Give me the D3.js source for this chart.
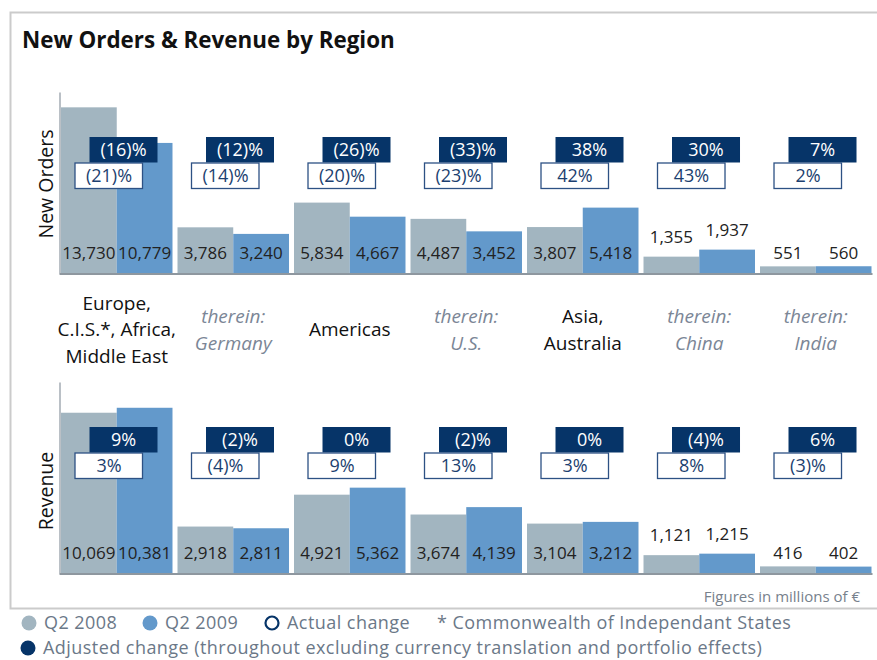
<!DOCTYPE html>
<meta charset="utf-8">
<style>
body { margin: 0; background: #fff; }
svg { font-family: "Open Sans", sans-serif; }
.val { fill: #222; font-size: 17px; text-anchor: middle; }
.cat { font-size: 19px; text-anchor: middle; }
.cat.sub { fill: #7b8696; font-style: italic; }
.legend text { fill: #6b7888; font-size: 18px; letter-spacing: 0.45px; }
</style>
<svg width="877" height="660"></svg>
<script src="https://d3js.org/d3.v7.min.js"></script>
<script>
var regions = ["Europe", "Germany", "Americas", "U.S.", "Asia", "China", "India"];
var regionLines = [["Europe,", "C.I.S.*, Africa,", "Middle East"], ["therein:", "Germany"], ["Americas"],
                   ["therein:", "U.S."], ["Asia,", "Australia"], ["therein:", "China"], ["therein:", "India"]];
var isSub = [false, true, false, true, false, true, true];

var orders2008 = [13730, 3786, 5834, 4487, 3807, 1355, 551];
var orders2009 = [10779, 3240, 4667, 3452, 5418, 1937, 560];
var ordersActual = ["(21)%", "(14)%", "(20)%", "(23)%", "42%", "43%", "2%"];
var ordersAdjusted = ["(16)%", "(12)%", "(26)%", "(33)%", "38%", "30%", "7%"];

var revenue2008 = [10069, 2918, 4921, 3674, 3104, 1121, 416];
var revenue2009 = [10381, 2811, 5362, 4139, 3212, 1215, 402];
var revenueActual = ["3%", "(4)%", "9%", "13%", "3%", "8%", "(3)%"];
var revenueAdjusted = ["9%", "(2)%", "0%", "(2)%", "0%", "(4)%", "6%"];

var c08 = "#a2b5c0", c09 = "#6399cb", navy = "#063468";

var svg = d3.select("svg");
var fmt = d3.format(",");

// frame
svg.append("rect").attr("x", 10.5).attr("y", 12.5).attr("width", 880).attr("height", 596)
  .attr("fill", "none").attr("stroke", "#cbcbcb").attr("stroke-width", 2);

svg.append("text").attr("x", 22).attr("y", 48)
  .style("font-size", "22.4px").style("font-weight", "bold").attr("fill", "#111")
  .text("New Orders & Revenue by Region");

var x = d3.scaleBand().domain(regions).range([61, 871.5]).paddingInner(0.043).paddingOuter(0);
var xs = d3.scaleBand().domain(["a", "b"]).range([0, x.bandwidth()]);

function panel(title, titleY, v08, v09, actual, adjusted, yTop, yBase, maxV) {
  var y = d3.scaleLinear().domain([0, maxV]).range([yBase, yTop]);
  var g = svg.append("g");

  var grp = g.selectAll(".grp").data(regions).enter().append("g")
    .attr("transform", function(d) { return "translate(" + x(d) + ",0)"; });

  [["a", v08, c08], ["b", v09, c09]].forEach(function(s) {
    grp.append("rect")
      .attr("x", xs(s[0])).attr("width", xs.bandwidth())
      .attr("y", function(d, i) { return y(s[1][i]); })
      .attr("height", function(d, i) { return yBase - y(s[1][i]); })
      .attr("fill", s[2]);
    grp.append("text").attr("class", "val")
      .attr("x", xs(s[0]) + xs.bandwidth() / 2)
      .attr("y", function(d, i) {
        var h = yBase - y(s[1][i]);
        return (h >= 12 && h < 36) ? y(s[1][i]) - 20 : yBase - 20;
      })
      .attr("dy", "0.36em")
      .text(function(d, i) { return fmt(s[1][i]); });
  });

  // adjusted (dark) boxes then actual (outlined) boxes
  grp.append("rect").attr("x", 28.5).attr("y", yTop + 45).attr("width", 68).attr("height", 25.5)
    .attr("fill", navy);
  grp.append("text").attr("x", 28.5 + 34).attr("y", yTop + 45 + 12.75).attr("dy", "0.36em")
    .attr("text-anchor", "middle").attr("fill", "#fff").style("font-size", "18px")
    .text(function(d, i) { return adjusted[i]; });
  grp.append("rect").attr("x", 14).attr("y", yTop + 71).attr("width", 67.5).attr("height", 25.5)
    .attr("fill", "#fff").attr("stroke", "#2d5184").attr("stroke-width", 1.3);
  grp.append("text").attr("x", 14 + 34).attr("y", yTop + 71 + 12.75).attr("dy", "0.36em")
    .attr("text-anchor", "middle").attr("fill", "#1c3f70").style("font-size", "18px")
    .text(function(d, i) { return actual[i]; });

  // axes
  g.append("g").attr("transform", "translate(59.5,0)")
    .call(d3.axisLeft(y).ticks(0).tickSizeOuter(0))
    .select(".domain").attr("stroke", "#a3abb3").attr("stroke-width", 1.5);
  var xb = d3.scaleLinear().range([59, 872]);
  g.append("g").attr("transform", "translate(0," + (yBase + 0.5) + ")")
    .call(d3.axisBottom(xb).ticks(0).tickSizeOuter(0))
    .select(".domain").attr("stroke", "#8e979f").attr("stroke-width", 2);

  svg.append("text").attr("transform", "translate(53," + titleY + ") rotate(-90)")
    .attr("text-anchor", "middle").style("font-size", "19.5px").attr("fill", "#111").text(title);
}

panel("New Orders", 184, orders2008, orders2009, ordersActual, ordersAdjusted, 92, 273, 15000);
panel("Revenue", 491, revenue2008, revenue2009, revenueActual, revenueAdjusted, 382, 573, 12000);

// category labels
var cats = svg.selectAll(".catg").data(regions).enter().append("text")
  .attr("class", function(d, i) { return isSub[i] ? "cat sub" : "cat"; })
  .attr("fill", "#111")
  .attr("x", function(d) { return x(d) + x.bandwidth() / 2; });
cats.each(function(d, i) {
  var lines = regionLines[i];
  var y0 = 329.5 - (lines.length - 1) * 26.5 / 2;
  d3.select(this).selectAll("tspan").data(lines).enter().append("tspan")
    .attr("x", x(d) + x.bandwidth() / 2)
    .attr("y", function(l, j) { return y0 + j * 26.5; })
    .attr("dy", "0.36em")
    .text(function(l) { return l; });
});

svg.append("text").attr("x", 860).attr("y", 597).attr("dy", "0.36em")
  .attr("text-anchor", "end").attr("fill", "#77818c").style("font-size", "15px")
  .text("Figures in millions of \u20ac");

// legend
var legendItems = [
  { label: "Q2 2008", fill: c08, stroke: "none", x: 29, y: 623 },
  { label: "Q2 2009", fill: c09, stroke: "none", x: 150, y: 623 },
  { label: "Actual change", fill: "#fff", stroke: navy, x: 272, y: 623 },
  { label: "Adjusted change (throughout excluding currency translation and portfolio effects)", fill: navy, stroke: "none", x: 28, y: 648 }
];
var lg = svg.append("g").attr("class", "legend");
var li = lg.selectAll("g").data(legendItems).enter().append("g");
li.append("circle").attr("cx", function(d) { return d.x; }).attr("cy", function(d) { return d.y; })
  .attr("r", function(d) { return d.stroke === "none" ? 7.5 : 6.5; })
  .attr("fill", function(d) { return d.fill; }).attr("stroke", function(d) { return d.stroke; })
  .attr("stroke-width", 2.2);
li.append("text").attr("x", function(d) { return d.x + 15; }).attr("y", function(d) { return d.y; })
  .attr("dy", "0.36em").text(function(d) { return d.label; });
lg.append("text").attr("x", 437).attr("y", 623).attr("dy", "0.36em")
  .text("* Commonwealth of Independant States");
</script>
